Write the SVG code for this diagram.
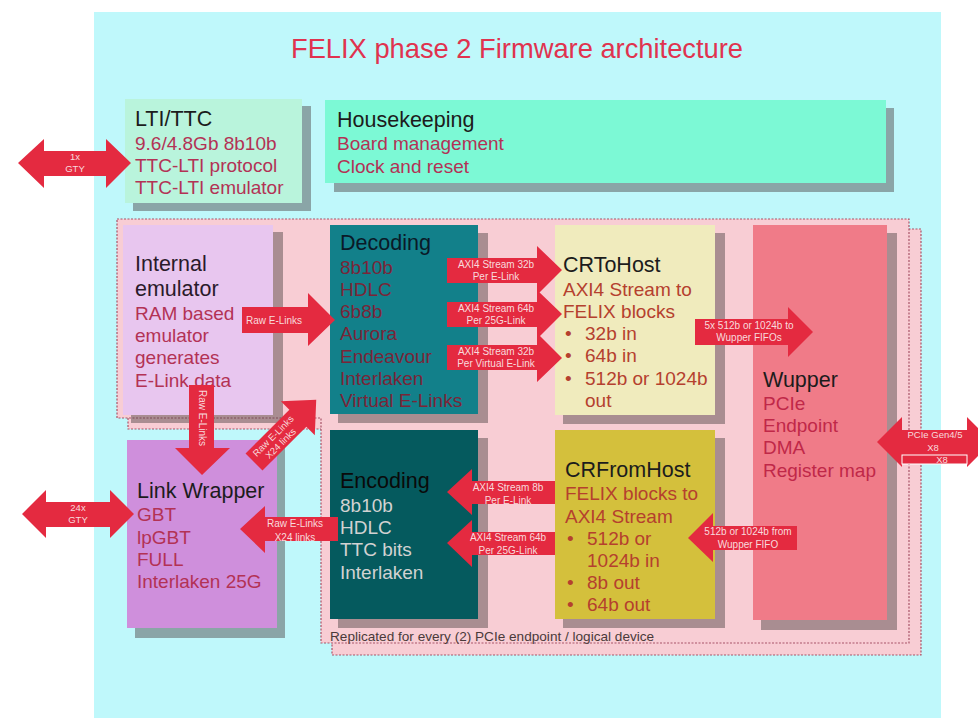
<svg xmlns="http://www.w3.org/2000/svg" width="978" height="718" viewBox="0 0 978 718">
  <style>
    text { font-family: "Liberation Sans", Arial, sans-serif; }
    .title { font-size: 27.3px; fill: #e0334f; text-anchor: middle; }
    .head { font-size: 21.5px; fill: #1c1c1c; }
    .body { font-size: 19px; fill: #b33255; }
    .dec { font-size: 19px; fill: #7a2538; }
    .enc { font-size: 19px; fill: #d2d2d2; }
    .brown { font-size: 19px; fill: #b5402e; }
    .lbl { font-size: 10px; fill: #f8dadd; text-anchor: middle; }
    .small { font-size: 9.5px; fill: #f8dadd; text-anchor: middle; }
    .shadow { fill: #4a4040; opacity: 0.45; }
    .arrow { fill: #e42a40; }
    .region { fill: #f8cdd4; stroke: #a85468; stroke-width: 1.2; stroke-dasharray: 2 1.5; }
    .note { font-size: 13.6px; fill: #4a3a3a; }
  </style>

  <!-- page background -->
  <rect x="0" y="0" width="978" height="718" fill="#ffffff"/>
  <rect x="94" y="12" width="847" height="706" fill="#bff8fb"/>

  <text class="title" x="517" y="58">FELIX phase 2 Firmware architecture</text>

  <!-- replicated per-endpoint region (two stacked copies) -->
  <g id="replicated-region">
    <polygon class="region" points="128,229 921,229 921,655 332,655 332,429 128,429"/>
    <polygon class="region" points="117,219 909,219 909,643 321,643 321,418 117,418"/>
    <text class="note" x="330" y="641">Replicated for every (2) PCIe endpoint / logical device</text>
  </g>

  <g id="lti-ttc">
    <rect class="shadow" x="133" y="106" width="178" height="105"/>
    <rect x="125" y="99" width="177" height="104" fill="#b9f4dc"/>
    <text class="head" x="135" y="126">LTI/TTC</text>
    <text class="body" x="135" y="150">9.6/4.8Gb 8b10b</text>
    <text class="body" x="135" y="172">TTC-LTI protocol</text>
    <text class="body" x="135" y="194">TTC-LTI emulator</text>
  </g>

  <g id="housekeeping">
    <rect class="shadow" x="334" y="108" width="560" height="84"/>
    <rect x="325" y="100" width="561" height="83" fill="#7cf9d5"/>
    <text class="head" x="337" y="127">Housekeeping</text>
    <text class="body" x="337" y="150">Board management</text>
    <text class="body" x="337" y="173">Clock and reset</text>
  </g>

  <g id="internal-emulator">
    <rect class="shadow" x="131" y="232" width="152" height="191"/>
    <rect x="123" y="225" width="150" height="190" fill="#e8c6ef"/>
    <text class="head" x="135" y="271" style="fill:#2a1a2a">Internal</text>
    <text class="head" x="135" y="296" style="fill:#2a1a2a">emulator</text>
    <text class="body" x="135" y="320">RAM based</text>
    <text class="body" x="135" y="342">emulator</text>
    <text class="body" x="135" y="364">generates</text>
    <text class="body" x="135" y="387">E-Link data</text>
  </g>

  <g id="decoding">
    <rect class="shadow" x="338" y="233" width="150" height="190"/>
    <rect x="330" y="225" width="148" height="189" fill="#12808a"/>
    <text class="head" x="340" y="250" style="fill:#0a1a28">Decoding</text>
    <text class="dec" x="340" y="274">8b10b</text>
    <text class="dec" x="340" y="296">HDLC</text>
    <text class="dec" x="340" y="318">6b8b</text>
    <text class="dec" x="340" y="340">Aurora</text>
    <text class="dec" x="340" y="363">Endeavour</text>
    <text class="dec" x="340" y="385">Interlaken</text>
    <text class="dec" x="340" y="407">Virtual E-Links</text>
  </g>

  <g id="crtohost">
    <rect class="shadow" x="563" y="233" width="162" height="191"/>
    <rect x="555" y="225" width="160" height="190" fill="#f0ebbd"/>
    <text class="head" x="563" y="272">CRToHost</text>
    <text class="brown" x="563" y="296">AXI4 Stream to</text>
    <text class="brown" x="563" y="318">FELIX blocks</text>
    <text class="brown" x="565" y="340">•</text>
    <text class="brown" x="585" y="340">32b in</text>
    <text class="brown" x="565" y="362">•</text>
    <text class="brown" x="585" y="362">64b in</text>
    <text class="brown" x="565" y="385">•</text>
    <text class="brown" x="585" y="385">512b or 1024b</text>
    <text class="brown" x="585" y="407">out</text>
  </g>

  <g id="wupper">
    <rect class="shadow" x="761" y="233" width="136" height="397"/>
    <rect x="753" y="225" width="134" height="395" fill="#f07b88"/>
    <text class="head" x="763" y="387">Wupper</text>
    <text class="body" x="763" y="410" style="fill:#c02848">PCIe</text>
    <text class="body" x="763" y="432" style="fill:#c02848">Endpoint</text>
    <text class="body" x="763" y="454" style="fill:#c02848">DMA</text>
    <text class="body" x="763" y="477" style="fill:#c02848">Register map</text>
  </g>

  <g id="link-wrapper">
    <rect class="shadow" x="135" y="448" width="150" height="190"/>
    <rect x="127" y="440" width="150" height="188" fill="#cf8fdc"/>
    <text class="head" x="137" y="498">Link Wrapper</text>
    <text class="body" x="137" y="521">GBT</text>
    <text class="body" x="137" y="544">lpGBT</text>
    <text class="body" x="137" y="566">FULL</text>
    <text class="body" x="137" y="588">Interlaken 25G</text>
  </g>

  <g id="encoding">
    <rect class="shadow" x="338" y="438" width="150" height="190"/>
    <rect x="330" y="430" width="148" height="189" fill="#055a5e"/>
    <text class="head" x="340" y="488" style="fill:#0a0a0a">Encoding</text>
    <text class="enc" x="340" y="512">8b10b</text>
    <text class="enc" x="340" y="534">HDLC</text>
    <text class="enc" x="340" y="556">TTC bits</text>
    <text class="enc" x="340" y="579">Interlaken</text>
  </g>

  <g id="crfromhost">
    <rect class="shadow" x="563" y="438" width="162" height="190"/>
    <rect x="555" y="430" width="160" height="189" fill="#d4c03c"/>
    <text class="head" x="565" y="477">CRFromHost</text>
    <text class="brown" x="565" y="500">FELIX blocks to</text>
    <text class="brown" x="565" y="523">AXI4 Stream</text>
    <text class="brown" x="567" y="545">•</text>
    <text class="brown" x="587" y="545">512b or</text>
    <text class="brown" x="587" y="567">1024b in</text>
    <text class="brown" x="567" y="589">•</text>
    <text class="brown" x="587" y="589">8b out</text>
    <text class="brown" x="567" y="611">•</text>
    <text class="brown" x="587" y="611">64b out</text>
  </g>

  <!-- block arrows between the nodes -->
  <g id="connectors">
    <!-- LTI/TTC optical link -->
    <path class="arrow" d="M18,163 L44,139 L44,151 L106,151 L106,139 L131,163 L106,188 L106,176 L44,176 L44,188 Z"/>
    <text class="small" x="75" y="160">1x</text>
    <text class="small" x="75" y="172">GTY</text>

    <!-- front-end links -->
    <path class="arrow" d="M22,514 L46,490 L46,502 L110,502 L110,490 L134,514 L110,538 L110,527 L46,527 L46,538 Z"/>
    <text class="small" x="78" y="511">24x</text>
    <text class="small" x="78" y="523">GTY</text>

    <!-- emulator to decoding -->
    <path class="arrow" d="M242,307 L308,307 L308,293 L335,320 L308,346 L308,333 L242,333 Z"/>
    <text class="lbl" x="274" y="324">Raw E-Links</text>

    <!-- emulator to link wrapper -->
    <path class="arrow" d="M189,385 L214,385 L214,448 L230,448 L202,475 L175,448 L189,448 Z"/>
    <text class="lbl" x="0" y="0" transform="translate(202,418) rotate(90)" dy="3.5">Raw E-Links</text>

    <!-- link wrapper to decoding -->
    <g transform="translate(254,462) rotate(-45)">
      <path class="arrow" d="M0,-12 L62,-12 L62,-24 L88,0 L62,24 L62,12 L0,12 Z"/>
      <text class="small" x="32" y="-1.5">Raw E-Links</text>
      <text class="small" x="32" y="9">X24 links</text>
    </g>

    <!-- decoding to CRToHost -->
    <path class="arrow" d="M447,258 L537,258 L537,246 L562,270 L537,295 L537,283 L447,283 Z"/>
    <text class="lbl" x="496" y="268">AXI4 Stream 32b</text>
    <text class="lbl" x="496" y="280">Per E-Link</text>
    <path class="arrow" d="M447,302 L537,302 L537,290 L562,314 L537,339 L537,327 L447,327 Z"/>
    <text class="lbl" x="496" y="312">AXI4 Stream 64b</text>
    <text class="lbl" x="496" y="324">Per 25G-Link</text>
    <path class="arrow" d="M447,345 L537,345 L537,333 L562,358 L537,382 L537,370 L447,370 Z"/>
    <text class="lbl" x="496" y="355">AXI4 Stream 32b</text>
    <text class="lbl" x="496" y="367">Per Virtual E-Link</text>

    <!-- CRToHost to Wupper -->
    <path class="arrow" d="M695,319 L788,319 L788,307 L813,332 L788,357 L788,345 L695,345 Z"/>
    <text class="lbl" x="749" y="329">5x 512b or 1024b to</text>
    <text class="lbl" x="749" y="341">Wupper FIFOs</text>

    <!-- CRFromHost to encoding -->
    <path class="arrow" d="M447,492 L472,469 L472,481 L555,481 L555,504 L472,504 L472,515 Z"/>
    <text class="lbl" x="508" y="491">AXI4 Stream 8b</text>
    <text class="lbl" x="508" y="504">Per E-Link</text>
    <path class="arrow" d="M447,543 L472,520 L472,532 L555,532 L555,555 L472,555 L472,567 Z"/>
    <text class="lbl" x="508" y="541">AXI4 Stream 64b</text>
    <text class="lbl" x="508" y="554">Per 25G-Link</text>

    <!-- encoding to link wrapper -->
    <path class="arrow" d="M240,529 L265,506 L265,517 L338,517 L338,541 L265,541 L265,553 Z"/>
    <text class="lbl" x="295" y="527">Raw E-Links</text>
    <text class="lbl" x="295" y="541">X24 links</text>

    <!-- Wupper to CRFromHost -->
    <path class="arrow" d="M688,538 L713,513 L713,526 L797,526 L797,550 L713,550 L713,562 Z"/>
    <text class="lbl" x="748" y="535">512b or 1024b from</text>
    <text class="lbl" x="748" y="548">Wupper FIFO</text>

    <!-- host PCIe link -->
    <path class="arrow" d="M877,442 L902,417 L902,430 L967,430 L967,417 L992,442 L967,467 L967,455 L902,455 L902,467 Z"/>
    <text class="small" x="935" y="438">PCIe Gen4/5</text>
    <text class="small" x="933" y="451">X8</text>
    <rect x="902" y="455" width="65" height="9" fill="#e42a40" stroke="#ffffff" stroke-width="1"/>
    <text class="small" x="942" y="463">X8</text>
  </g>
</svg>
